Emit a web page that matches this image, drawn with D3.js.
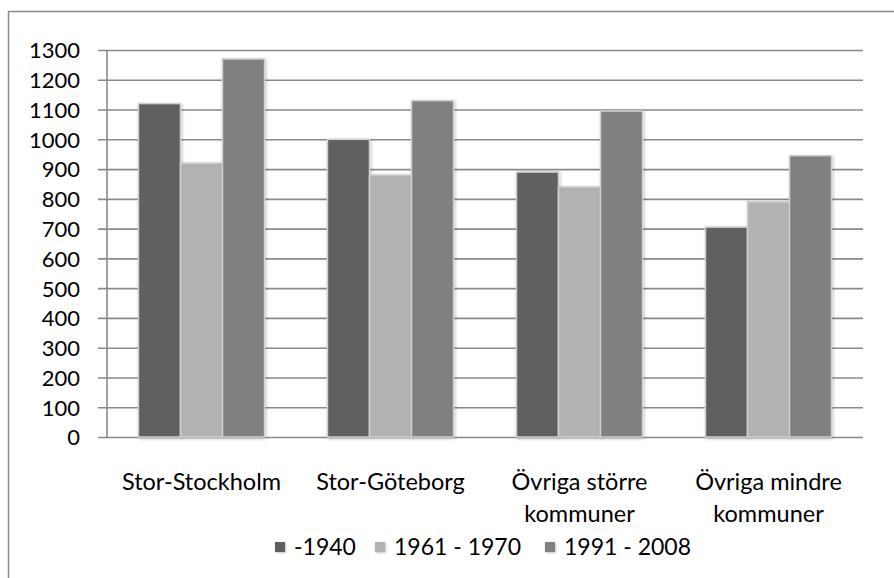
<!DOCTYPE html>
<html>
<head>
<meta charset="utf-8">
<script src="https://cdn.jsdelivr.net/npm/d3@7"></script>
<style>
  body { margin: 0; background: #fff; }
  text { font-family: Lato, "Open Sans", sans-serif; fill: #000; }
</style>
</head>
<body>
<div id="app"></div>
<script>
const categories = ["Stor-Stockholm", "Stor-Göteborg", "Övriga större kommuner", "Övriga mindre kommuner"];
const seriesNames = ["-1940", "1961 - 1970", "1991 - 2008"];
const values1940 = [1120, 1000, 890, 705];
const values1961 = [920, 880, 840, 790];
const values1991 = [1270, 1130, 1095, 945];
const yTicks = d3.range(0, 1301, 100);
const colors = ["#606060", "#b2b2b2", "#808080"];

const w = 894;
const h = 578;
const margin = { top: 50, right: 31, bottom: 141, left: 107 };

const svg = d3.select("#app")
  .append("svg")
  .attr("width", w)
  .attr("height", h);

// drop shadow for bars
const defs = svg.append("defs");
const f = defs.append("filter").attr("id", "shadow")
  .attr("x", "-20%").attr("y", "-20%").attr("width", "140%").attr("height", "140%");
f.append("feDropShadow")
  .attr("dx", 1).attr("dy", 1).attr("stdDeviation", 1.5)
  .attr("flood-color", "#000").attr("flood-opacity", 0.25);

// chart frame (right and bottom edges fall outside the picture)
svg.append("path")
  .attr("d", `M8.5,${h + 5} V11.5 H${w + 5}`)
  .attr("fill", "none")
  .attr("stroke", "#8a8a8a")
  .attr("stroke-width", 1.5);

const x0 = d3.scaleBand()
  .domain(categories)
  .range([margin.left, w - margin.right])
  .paddingInner(0.333)
  .paddingOuter(0.1665);

const x1 = d3.scaleBand()
  .domain(seriesNames)
  .range([0, x0.bandwidth()]);

const y = d3.scaleLinear()
  .domain([0, 1300])
  .range([h - margin.bottom, margin.top]);

//gridlines + y axis
const yAxis = svg.append("g")
  .attr("transform", `translate(${margin.left},0)`)
  .call(d3.axisLeft(y)
    .tickValues(yTicks)
    .tickSize(-(w - margin.right - margin.left))
    .tickSizeOuter(0)
    .tickPadding(27)
    .tickFormat(d3.format("d")));
yAxis.select(".domain").remove();
yAxis.selectAll(".tick line")
  .attr("x1", -9)
  .attr("stroke", "#8a8a8a")
  .attr("stroke-width", 1.6);
yAxis.selectAll(".tick text")
  .style("font-size", "22px")
  .attr("dy", "0.36em");

svg.append("line")
  .attr("x1", margin.left).attr("x2", margin.left)
  .attr("y1", y(1300)).attr("y2", y(0))
  .attr("stroke", "#8a8a8a")
  .attr("stroke-width", 1.6);

//bars
const seriesValues = [values1940, values1961, values1991];
const groups = svg.append("g")
  .selectAll("g")
  .data(categories)
  .join("g")
  .attr("transform", (d) => `translate(${x0(d)},0)`);

groups.selectAll("rect")
  .data((d, i) => seriesNames.map((s, j) => ({ s, j, v: seriesValues[j][i] })))
  .join("rect")
  .attr("x", (d) => x1(d.s))
  .attr("y", (d) => y(d.v))
  .attr("width", x1.bandwidth())
  .attr("height", (d) => y(0) - y(d.v))
  .attr("fill", (d) => colors[d.j])
  .attr("stroke", "#cfcfcf")
  .attr("stroke-width", 1.5)
  .attr("filter", "url(#shadow)");

//x labels, wrapped like the original
const xLabels = svg.append("g");
categories.forEach((c) => {
  const t = xLabels.append("text")
    .attr("x", x0(c) + x0.bandwidth() / 2)
    .attr("y", 490)
    .attr("text-anchor", "middle")
    .style("font-size", "23.5px");
  const words = c.split(" ");
  let lines = [c];
  if (words.length > 2) lines = [words.slice(0, 2).join(" "), words.slice(2).join(" ")];
  lines.forEach((l, i) => {
    t.append("tspan")
      .attr("x", x0(c) + x0.bandwidth() / 2)
      .attr("dy", i === 0 ? 0 : 32)
      .text(l);
  });
});

//legend
const legendX = [275, 375, 545];
const legend = svg.append("g");
seriesNames.forEach((s, i) => {
  legend.append("rect")
    .attr("x", legendX[i])
    .attr("y", 542)
    .attr("width", 10)
    .attr("height", 10)
    .attr("fill", colors[i])
    .attr("filter", "url(#shadow)");
  legend.append("text")
    .attr("x", legendX[i] + 19)
    .attr("y", 555)
    .style("font-size", "23px")
    .text(s);
});
</script>
</body>
</html>
